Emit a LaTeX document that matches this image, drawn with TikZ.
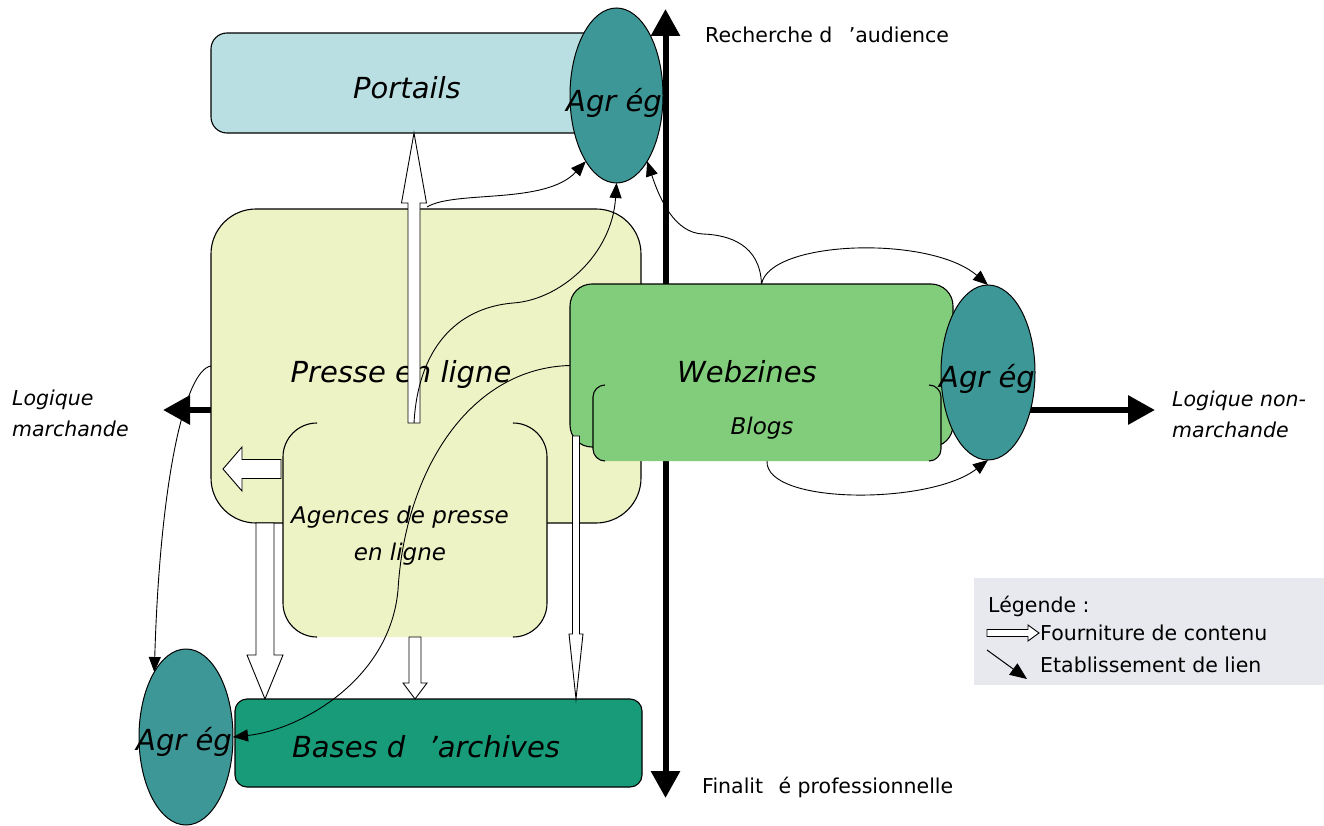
\documentclass[tikz,border=0pt]{standalone}
\usepackage{fontspec}
\setmainfont{DejaVu Sans}
\usetikzlibrary{arrows.meta,calc,shapes.geometric}

\definecolor{portailsfill}{HTML}{BADFE2}
\definecolor{agregfill}{HTML}{3E9797}
\definecolor{pressefill}{HTML}{EDF3C5}
\definecolor{webfill}{HTML}{82CD7B}
\definecolor{basesfill}{HTML}{179B78}
\definecolor{legendfill}{HTML}{E8E9EE}

% hollow block arrow from #1 to tip #2: shaft half width #3, head half width #4, head length #5
\newcommand\hollowarrow[5]{%
  \coordinate (hb) at ($(#2)!#5!(#1)$);
  \draw[hollow] ($(#1)!#3!90:(#2)$) -- ($(hb)!#3!-90:(#1)$) -- ($(hb)!#4!-90:(#1)$)
    -- (#2) -- ($(hb)!#4!90:(#1)$) -- ($(hb)!#3!90:(#1)$) -- ($(#1)!#3!-90:(#2)$) -- cycle;
}

\begin{document}
\begin{tikzpicture}[x=1pt,y=-1pt,
  box/.style={rectangle, inner sep=0pt, outer sep=0pt, draw=black, line width=1.1pt},
  fillbox/.style={rectangle, inner sep=0pt, outer sep=0pt},
  edge/.style={draw=black, line width=1.1pt},
  agreg/.style={ellipse, inner sep=0pt, outer sep=0pt, draw=black, line width=1pt, fill=agregfill},
  axis/.style={line width=6pt, {Triangle[length=27pt,width=28pt]}-{Triangle[length=27pt,width=28pt]}},
  link/.style={line width=0.9pt, -{Triangle[length=15pt,width=12pt]}},
  hollow/.style={draw=black, fill=white, line width=0.9pt, line join=miter},
  biglabel/.style={font=\fontsize{29}{34}\selectfont\itshape, inner sep=0pt, anchor=base},
  midlabel/.style={font=\fontsize{23}{37}\selectfont\itshape, inner sep=0pt},
  axlabel/.style={font=\fontsize{20.5}{31}\selectfont, inner sep=0pt},
  axlabelit/.style={font=\fontsize{20.5}{31}\selectfont\itshape, inner sep=0pt}
]
\useasboundingbox (0,0) rectangle (1324,826);

% legend background
\node[fillbox, fill=legendfill, minimum width=350pt, minimum height=107pt] (legend) at (1149,631.5) {};

% axes
\coordinate (axN) at (665.5,9);
\coordinate (axS) at (665.5,798);
\coordinate (axW) at (163,410);
\coordinate (axE) at (1155,410);
\draw[axis] (axW) -- (axE);
\draw[axis] (axS) -- (axN);

% Portails
\node[box, fill=portailsfill, rounded corners=16pt, minimum width=399pt, minimum height=100pt] (portails) at (410.5,83) {};
\node[biglabel] (portailsT) at (407,99) {Portails};

% Presse en ligne
\node[box, fill=pressefill, rounded corners=45pt, minimum width=430pt, minimum height=314pt] (presse) at (426,366) {};
\node[biglabel] (presseT) at (401,382) {Presse en ligne};

% Agences de presse en ligne
\node[fillbox, fill=pressefill, rounded corners=34pt, minimum width=264pt, minimum height=214pt] (agences) at (415,530) {};
\draw[edge, rounded corners=34pt] ([xshift=34pt]agences.north west) -- (agences.north west) -- (agences.south west) -- ([xshift=34pt]agences.south west);
\draw[edge, rounded corners=34pt] ([xshift=-34pt]agences.north east) -- (agences.north east) -- (agences.south east) -- ([xshift=-34pt]agences.south east);
\node[midlabel, align=center, anchor=north] (agencesT) at (400,506) {Agences de presse\\en ligne};

% Webzines and Blogs
\node[box, fill=webfill, rounded corners=22pt, minimum width=383pt, minimum height=163pt] (webzines) at (761.5,365.5) {};
\node[fillbox, fill=webfill, rounded corners=12pt, minimum width=348pt, minimum height=76pt] (blogs) at (767,423) {};
\draw[edge, rounded corners=12pt] ([xshift=12pt]blogs.north west) -- (blogs.north west) -- (blogs.south west) -- ([xshift=12pt]blogs.south west);
\draw[edge, rounded corners=12pt] ([xshift=-12pt]blogs.north east) -- (blogs.north east) -- (blogs.south east) -- ([xshift=-12pt]blogs.south east);
\node[biglabel] (webT) at (747,382) {Webzines};
\node[midlabel, anchor=base] (blogsT) at (762,434) {Blogs};

% Bases d'archives
\node[box, fill=basesfill, rounded corners=12pt, minimum width=407pt, minimum height=88pt] (bases) at (438.5,743) {};
\node[biglabel] (basesT) at (426,757) {Bases d\hspace{0.8em}'archives};

% Agreg ellipses
\node[agreg, minimum width=93pt, minimum height=175pt] (agregT) at (616.5,95.5) {};
\node[biglabel] (agregTT) at (614,112) {Agr ég};
\node[agreg, minimum width=94pt, minimum height=175pt] (agregR) at (988,372.5) {};
\node[biglabel] (agregRT) at (987,387) {Agr ég};
\node[agreg, minimum width=94pt, minimum height=176pt] (agregBL) at (186,737) {};
\node[biglabel] (agregBLT) at (184,750) {Agr ég};

% hollow arrows (fourniture de contenu)
\coordinate (upS) at (414,423);
\coordinate (upT) at (upS |- portails.south);
\hollowarrow{upS}{upT}{6pt}{12.5pt}{70pt}
\coordinate (upHR) at (427,207);

\coordinate (lfS) at (281,469);
\coordinate (lfT) at (223,469);
\hollowarrow{lfS}{lfT}{9.5pt}{22pt}{19pt}

\coordinate (dlS) at (265,523);
\coordinate (dlT) at (dlS |- bases.north);
\hollowarrow{dlS}{dlT}{9pt}{18pt}{44pt}

\coordinate (dmS) at (agences.south);
\coordinate (dmT) at (agences.south |- bases.north);
\hollowarrow{dmS}{dmT}{6pt}{12pt}{16pt}

\coordinate (drS) at (576,436);
\coordinate (drT) at (drS |- bases.north);
\hollowarrow{drS}{drT}{3.5pt}{7pt}{65pt}

% links (etablissement de lien)
\draw[link] (upHR) .. controls (455,190) and (545,205) .. (agregT.245);
\draw[link] (upS) .. controls (418,350) and (455,308) .. (513,303) .. controls (560,300) and (612,255) .. (agregT.south);
\draw[link] (webzines.north) .. controls (760,245) and (730,235) .. (703,234) .. controls (675,233) and (660,200) .. (agregT.295);
\draw[link] (webzines.north) .. controls (770,240) and (930,235) .. (agregR.north);
\draw[link] (blogs.south) .. controls (765,505) and (930,505) .. (agregR.south);
\draw[link] (webzines.west) .. controls (470,368) and (405,470) .. (398,590) .. controls (390,680) and (300,730) .. (agregBL.east);
\draw[link] (presse.west) .. controls (185,370) and (160,480) .. (agregBL.116);

% axis labels
\node[axlabel, anchor=base west] (rechT) at (705,43) {Recherche d\hspace{0.8em}'audience};
\node[axlabel, anchor=base west] (finT) at (702,793) {Finalit\hspace{0.75em}é professionnelle};
\node[axlabelit, anchor=north west, align=left] (lmT) at (12,390) {Logique\\marchande};
\node[axlabelit, anchor=north west, align=left] (lnmT) at (1172,391) {Logique non-\\marchande};

% legend
\node[axlabel, anchor=base west] (legT) at (988,612) {Légende :};
\coordinate (lhS) at (987,633);
\coordinate (lhT) at (1039,633);
\hollowarrow{lhS}{lhT}{3.5pt}{8pt}{11pt}
\node[axlabel, anchor=base west] (leg1) at (1040,640) {Fourniture de contenu};
\coordinate (llS) at (987,650);
\coordinate (llT) at (1027,679);
\draw[line width=1pt, -{Triangle[length=17pt,width=14pt]}] (llS) -- (llT);
\node[axlabel, anchor=base west] (leg2) at (1040,672) {Etablissement de lien};
\end{tikzpicture}
\end{document}
